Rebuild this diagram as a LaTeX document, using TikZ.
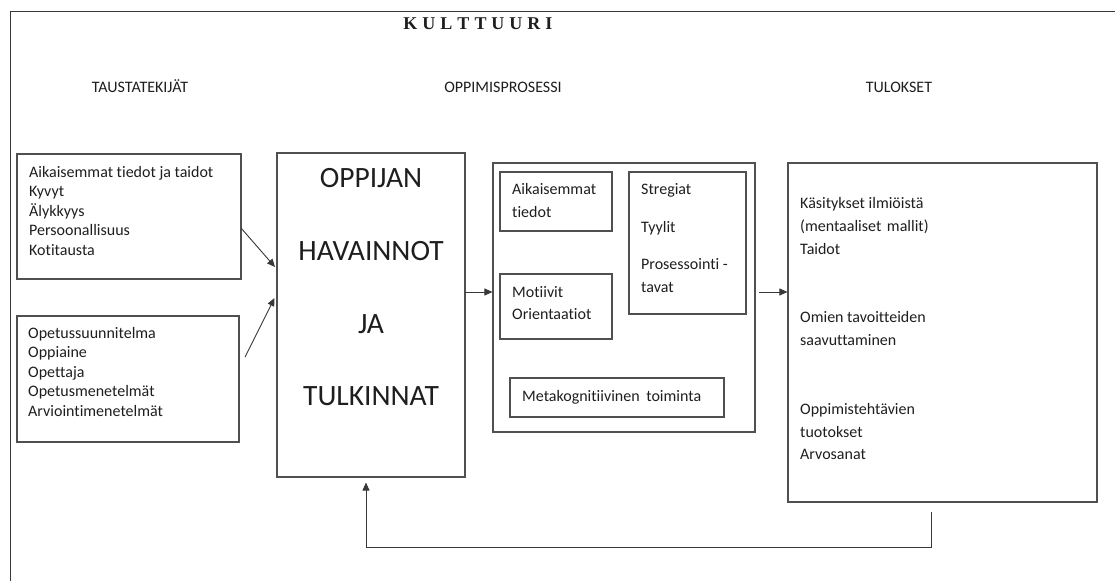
\documentclass[tikz,border=0pt]{standalone}
\usepackage{fontspec}
\setmainfont{Carlito}[Ligatures=NoCommon]
\newfontfamily\kfont{Liberation Serif}
\usetikzlibrary{arrows.meta,fit}
\definecolor{boxgray}{HTML}{505050}
\definecolor{linegray}{HTML}{383838}
\definecolor{textblack}{HTML}{1E1E1E}
\tikzset{
  box/.style={draw=boxgray, line width=1.1pt, inner sep=0pt},
  txt/.style={anchor=base west, inner sep=0pt, font=\fontsize{16}{19}\selectfont, text=textblack},
  head/.style={anchor=base, inner sep=0pt, font=\fontsize{16}{19}\selectfont, text=textblack},
  big/.style={anchor=base, inner sep=0pt, font=\fontsize{29.5}{35}\selectfont, text=textblack},
  arr/.style={draw=linegray, line width=0.9pt, -{Triangle[length=8pt,width=7pt]}},
  framestyle/.style={draw=linegray, line width=0.9pt},
}
\begin{document}
\begin{tikzpicture}[x=1pt,y=-1pt]
\useasboundingbox (0,0) rectangle (1115,581);
% open frame
\coordinate (fa) at (10,581);
\coordinate (fb) at (10,11);
\coordinate (fc) at (1115,11);
\draw[framestyle] (fa) -- (fb) -- (fc);
% titles
\node[anchor=base, inner sep=0pt, font=\kfont\bfseries\fontsize{18}{20}\selectfont, text=textblack] (kult) at (478,29)
  {K\kern5pt U\kern5pt L\kern5pt T\kern5pt T\kern5pt U\kern5pt U\kern5pt R\kern5pt I};
\node[head] (h1) at (140,92) {TAUSTATEKIJÄT};
\node[head] (h2) at (503,92) {OPPIMISPROSESSI};
\node[head] (h3) at (899,92) {TULOKSET};
% boxes
\node[box, fit={(17,154) (241,279)}] (b1) {};
\node[box, fit={(17,316) (239,442)}] (b2) {};
\node[box, fit={(277,153) (465,477)}] (opp) {};
\node[box, fit={(493,163) (755,432)}] (mid) {};
\node[box, fit={(500,172) (612,231)}] (aik) {};
\node[box, fit={(629,172) (746,314)}] (str) {};
\node[box, fit={(500,274) (612,339)}] (mot) {};
\node[box, fit={(510,378) (724,417)}] (meta) {};
\node[box, fit={(788,163) (1097,502)}] (res) {};
% box 1 text
\foreach \t [count=\i] in {Aikaisemmat tiedot ja taidot, Kyvyt, Älykkyys, Persoonallisuus, Kotitausta}
  \node[txt] (bt\i) at (29,{177+19.5*(\i-1)}) {\t};
\foreach \t [count=\i] in {Opetussuunnitelma, Oppiaine, Opettaja, Opetusmenetelmät, Arviointimenetelmät}
  \node[txt] (ct\i) at (28,{338+19.6*(\i-1)}) {\t};
% oppijan
\node[big] (o1) at (371,187.5) {OPPIJAN};
\node[big] (o2) at (371,260.5) {HAVAINNOT};
\node[big] (o3) at (371,333.5) {JA};
\node[big] (o4) at (371,405.5) {TULKINNAT};
% middle texts
\node[txt] (ai1) at (512,194) {Aikaisemmat};
\node[txt] (ai2) at (512,217) {tiedot};
\node[txt] (st1) at (641,194) {Stregiat};
\node[txt] (st2) at (641,232) {Tyylit};
\node[txt] (st3) at (641,269) {Prosessointi -};
\node[txt] (st4) at (641,292) {tavat};
\node[txt] (mo1) at (512,297) {Motiivit};
\node[txt] (mo2) at (512,319) {Orientaatiot};
\node[txt] (me1) at (522,401) {Metakognitiivinen\hspace{3pt} toiminta};
% results
\node[txt] (r1) at (800,208) {Käsitykset ilmiöistä};
\node[txt] (r2) at (800,231) {(mentaaliset\hspace{2pt} mallit)};
\node[txt] (r3) at (800,254) {Taidot};
\node[txt] (r4) at (800,322) {Omien tavoitteiden};
\node[txt] (r5) at (800,345) {saavuttaminen};
\node[txt] (r6) at (800,414) {Oppimistehtävien};
\node[txt] (r7) at (800,437) {tuotokset};
\node[txt] (r8) at (800,459) {Arvosanat};
% connectors
\coordinate (a1s) at (241,228);
\coordinate (a1e) at (275,267);
\draw[arr] (a1s) -- (a1e);
\coordinate (a2s) at (245,357);
\coordinate (a2e) at (274.5,298);
\draw[arr] (a2s) -- (a2e);
\coordinate (m0) at (465,292);
\draw[arr] (m0) -- (m0 -| mid.west);
\coordinate (m1) at (759,292);
\draw[arr] (m1) -- (m1 -| res.west);
\coordinate (fs) at (931,512);
\coordinate (fk) at (366,547);
\draw[arr] (fs) |- (fk) -- ([yshift=-5pt]fk |- opp.south);
\end{tikzpicture}
\end{document}
